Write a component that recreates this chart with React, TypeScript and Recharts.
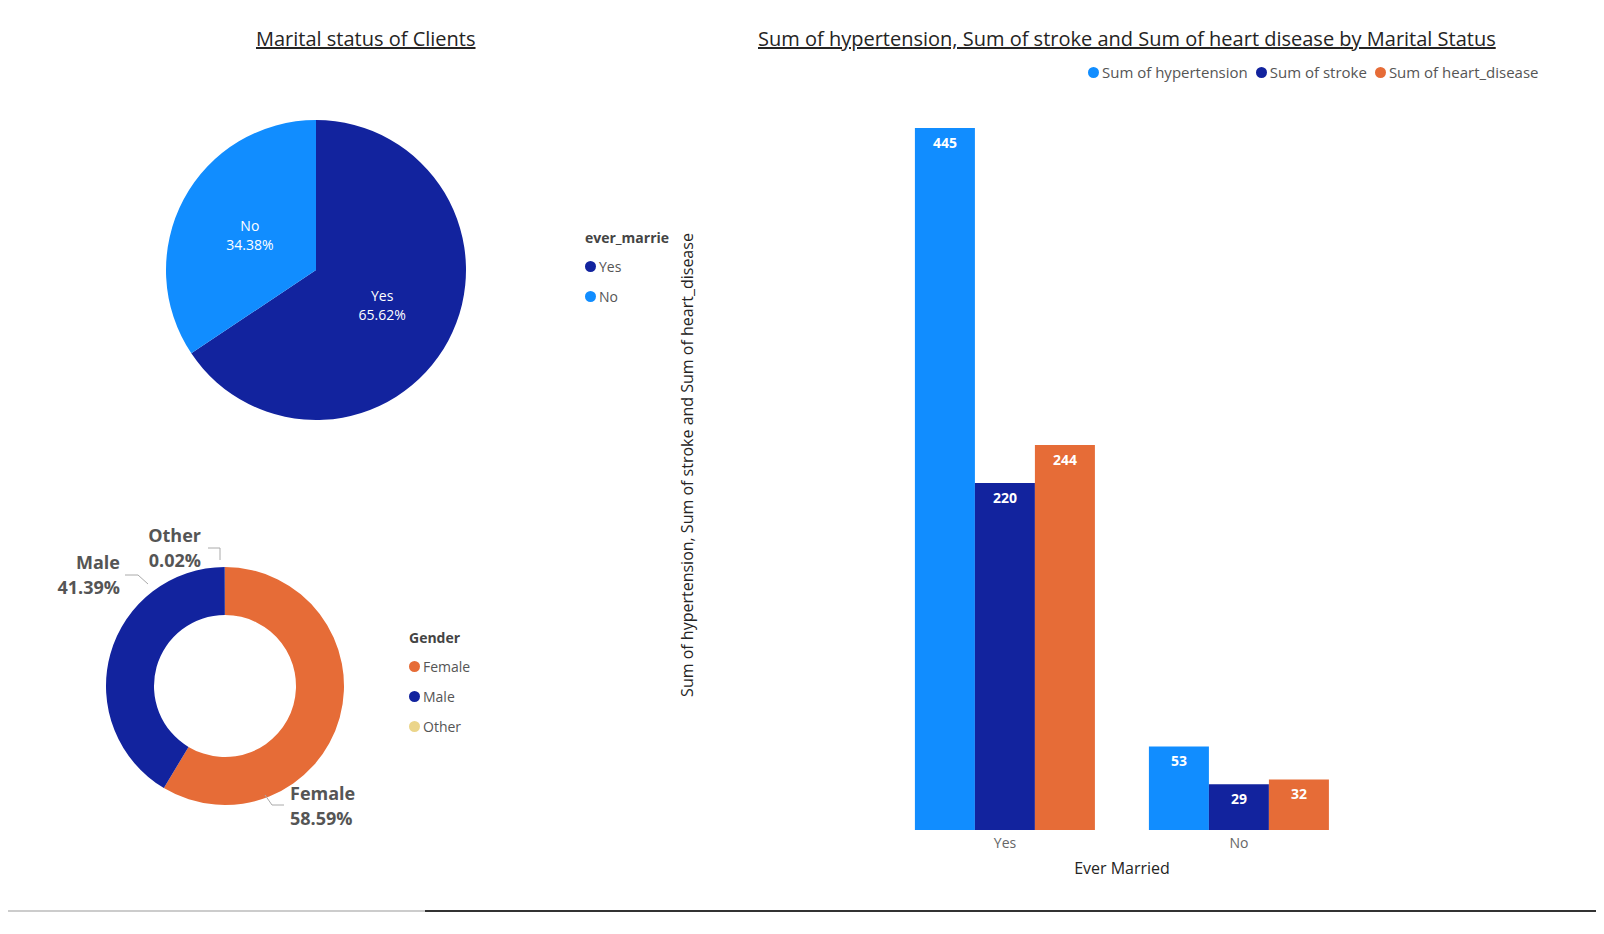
import React from "react";
import { PieChart, Pie, Cell, BarChart, Bar, XAxis, YAxis, LabelList } from "recharts";

const maritalNames = ["Yes", "No"];
const maritalValues = [65.62, 34.38];
const genderNames = ["Female", "Male", "Other"];
const genderValues = [58.59, 41.39, 0.02];
const barCategories = ["Yes", "No"];
const hypertension = [445, 53];
const stroke = [220, 29];
const heartDisease = [244, 32];

const C_LIGHT = "#118DFF", C_DARK = "#12239E", C_ORANGE = "#E66C37", C_OTHER = "#EBD58A";
const FONT = "'Open Sans', 'DejaVu Sans', sans-serif";

const maritalData = maritalNames.map((n, i) => ({ name: n, value: maritalValues[i] }));
const genderData = genderNames.map((n, i) => ({ name: n, value: genderValues[i] }));
const barData = barCategories.map((c, i) => ({ cat: c, h: hypertension[i], s: stroke[i], d: heartDisease[i] }));

const genderLabelStyle: Record<string, { line: number[][]; tx: number; ty: number; anchor: string }> = {
  Female: { line: [[265, 795], [272, 805], [284, 805]], tx: 290, ty: 800, anchor: "start" },
  Male: { line: [[148, 584], [138, 575], [125, 575]], tx: 120, ty: 569, anchor: "end" },
  Other: { line: [[220, 560], [220, 548], [208, 548]], tx: 201, ty: 542, anchor: "end" },
};

const Legend = ({ title, items, left, top }: any) => (
  <div style={{ position: "absolute", left, top, fontFamily: FONT, fontSize: 14, color: "#555" }}>
    {title && <div style={{ fontWeight: 700, color: "#444", marginBottom: 4 }}>{title}</div>}
    {items.map((it: any) => (
      <div key={it.n} style={{ display: "flex", alignItems: "center", height: 30 }}>
        <span style={{ width: 11, height: 11, borderRadius: 6, background: it.c, marginRight: 3 }} />
        {it.n}
      </div>
    ))}
  </div>
);

export default function App() {
  const RAD = Math.PI / 180;
  return (
    <div style={{ position: "relative", width: 1604, height: 934, margin: -8, background: "#fff", fontFamily: FONT, overflow: "hidden" }}>
      <div style={{ position: "absolute", left: 256, top: 25, fontSize: 20, color: "#252423", textDecoration: "underline" }}>Marital status of Clients</div>
      <div style={{ position: "absolute", left: 758, top: 25, fontSize: 20, color: "#252423", textDecoration: "underline" }}>Sum of hypertension, Sum of stroke and Sum of heart disease by Marital Status</div>

      <div style={{ position: "absolute", left: 0, top: 0 }}>
        <PieChart width={640} height={460}>
          <Pie data={maritalData} dataKey="value" cx={311} cy={265} outerRadius={150} startAngle={90} endAngle={-270}
            stroke="none" isAnimationActive={false} labelLine={false}
            label={(p: any) => {
              const r = 75;
              const x = p.cx + r * Math.cos(-p.midAngle * RAD);
              const y = p.cy + r * Math.sin(-p.midAngle * RAD);
              return (
                <text x={x} y={y} textAnchor="middle" fill="#fff" fontSize={14} fontFamily={FONT}>
                  <tspan x={x} dy={-4}>{p.name}</tspan>
                  <tspan x={x} dy={19}>{p.value.toFixed(2)}%</tspan>
                </text>
              );
            }}>
            {maritalData.map((d, i) => <Cell key={i} fill={i === 0 ? C_DARK : C_LIGHT} />)}
          </Pie>
        </PieChart>
      </div>
      <Legend title="ever_marrie" left={585} top={228} items={[{ n: "Yes", c: C_DARK }, { n: "No", c: C_LIGHT }]} />

      <div style={{ position: "absolute", left: 0, top: 0 }}>
        <PieChart width={640} height={900}>
          <Pie data={genderData} dataKey="value" cx={220} cy={681} outerRadius={119} innerRadius={71} startAngle={90} endAngle={-270}
            stroke="none" isAnimationActive={false} labelLine={false}
            label={(p: any) => {
              const s = genderLabelStyle[p.name];
              return (
                <g>
                  <polyline points={s.line.map((q) => q.join(",")).join(" ")} fill="none" stroke="#aaa" strokeWidth={1} />
                  <text x={s.tx} y={s.ty} textAnchor={s.anchor as any} fill="#555" fontSize={18} fontWeight={700} fontFamily={FONT}>
                    <tspan x={s.tx} dy={0}>{p.name}</tspan>
                    <tspan x={s.tx} dy={25}>{p.value.toFixed(2)}%</tspan>
                  </text>
                </g>
              );
            }}>
            {genderData.map((d, i) => <Cell key={i} fill={[C_ORANGE, C_DARK, C_OTHER][i]} />)}
          </Pie>
        </PieChart>
      </div>
      <Legend title="Gender" left={409} top={628} items={[{ n: "Female", c: C_ORANGE }, { n: "Male", c: C_DARK }, { n: "Other", c: C_OTHER }]} />

      <div style={{ position: "absolute", left: 1088, top: 62, display: "flex", gap: 8, fontSize: 15, color: "#555" }}>
        {[["Sum of hypertension", C_LIGHT], ["Sum of stroke", C_DARK], ["Sum of heart_disease", C_ORANGE]].map(([n, c]) => (
          <div key={n} style={{ display: "flex", alignItems: "center" }}>
            <span style={{ width: 11, height: 11, borderRadius: 6, background: c, marginRight: 3 }} />{n}
          </div>
        ))}
      </div>

      <div style={{ position: "absolute", left: 687, top: 465, transform: "translate(-50%,-50%) rotate(-90deg)", whiteSpace: "nowrap", fontSize: 16, color: "#252423" }}>
        Sum of hypertension, Sum of stroke and Sum of heart_disease
      </div>
      <div style={{ position: "absolute", left: 1122, top: 857, transform: "translateX(-50%)", fontSize: 16, color: "#252423" }}>Ever Married</div>

      <div style={{ position: "absolute", left: 888, top: 100 }}>
        <BarChart width={468} height={770} data={barData} margin={{ top: 28, right: 0, bottom: 10, left: 0 }} barCategoryGap="11.5%" barGap={0}>
          <YAxis hide domain={[0, 445]} />
          <XAxis dataKey="cat" axisLine={false} tickLine={false} height={30} tick={{ fill: "#666", fontSize: 14, fontFamily: FONT }} />
          <Bar dataKey="h" fill={C_LIGHT} isAnimationActive={false}>
            <LabelList dataKey="h" position="insideTop" fill="#fff" fontSize={14} fontWeight={700} offset={10} />
          </Bar>
          <Bar dataKey="s" fill={C_DARK} isAnimationActive={false}>
            <LabelList dataKey="s" position="insideTop" fill="#fff" fontSize={14} fontWeight={700} offset={10} />
          </Bar>
          <Bar dataKey="d" fill={C_ORANGE} isAnimationActive={false}>
            <LabelList dataKey="d" position="insideTop" fill="#fff" fontSize={14} fontWeight={700} offset={10} />
          </Bar>
        </BarChart>
      </div>
      <div style={{ position: "absolute", left: 0, top: 910, width: 425, height: 2, background: "#ccc" }} />
      <div style={{ position: "absolute", left: 425, top: 910, width: 1179, height: 2, background: "#333" }} />
    </div>
  );
}
